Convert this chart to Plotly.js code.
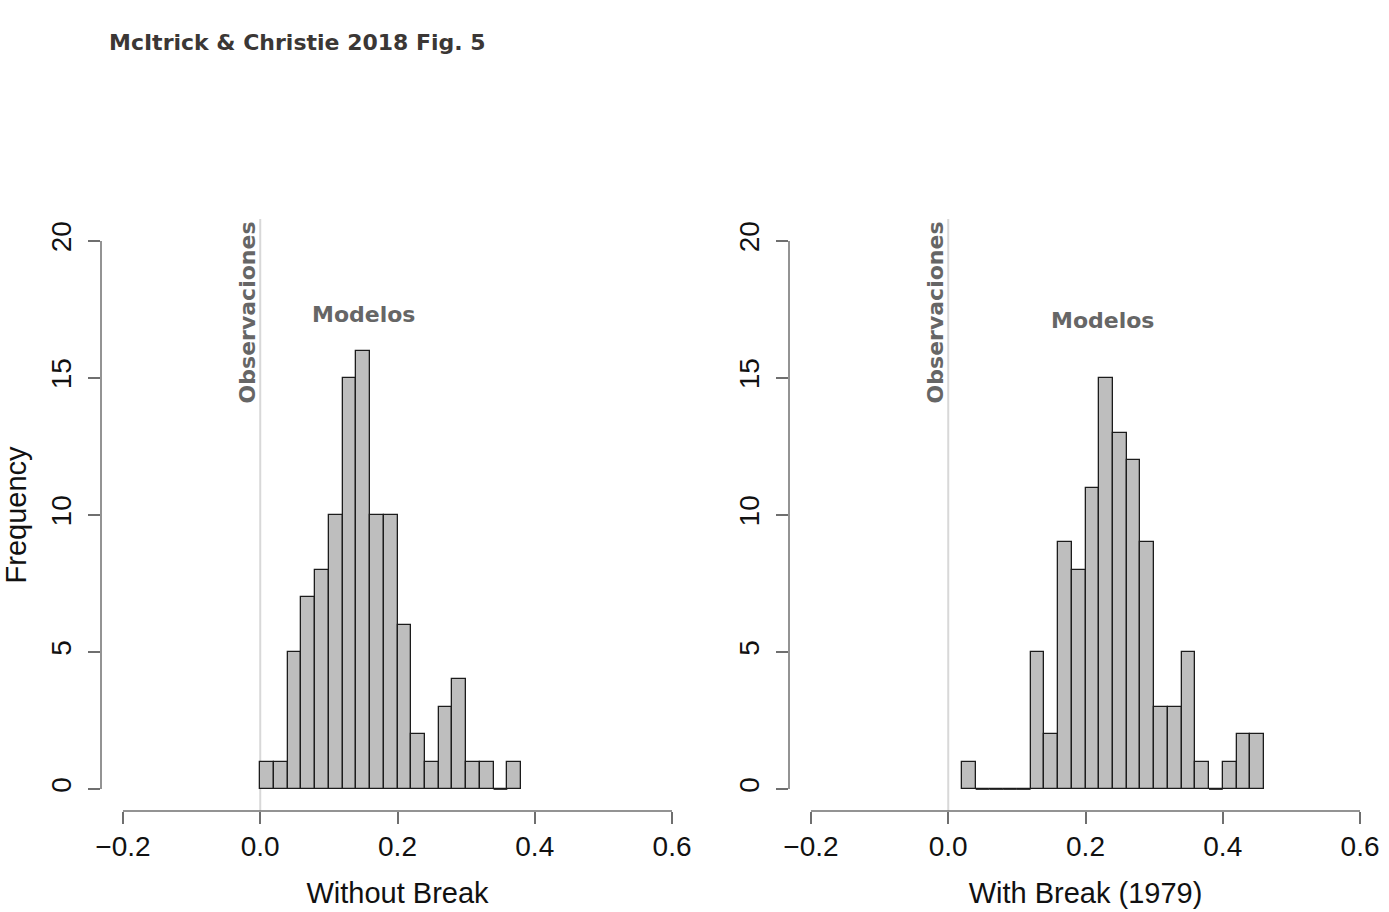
<!DOCTYPE html>
<html>
<head>
<meta charset="utf-8">
<script src="https://cdn.plot.ly/plotly-3.0.1.min.js"></script>
<style>html,body{margin:0;padding:0;background:#fff;}#chart{width:1389px;height:912px;}</style>
</head>
<body>
<div id="chart"></div>
<script>
// ---- data ----
const binWidth = 0.02;
const leftStart = 0.00;
const leftCounts = [1, 1, 5, 7, 8, 10, 15, 16, 10, 10, 6, 2, 1, 3, 4, 1, 1, 0, 1];
const rightStart = 0.02;
const rightCounts = [1, 0, 0, 0, 0, 5, 2, 9, 8, 11, 15, 13, 12, 9, 3, 3, 5, 1, 0, 1, 2, 2];
const xTickVals = [-0.2, 0.0, 0.2, 0.4, 0.6];
const yTickVals = [0, 5, 10, 15, 20];
const titleText = 'McItrick & Christie 2018 Fig. 5';
const xTitleLeft = 'Without Break';
const xTitleRight = 'With Break (1979)';
const yTitle = 'Frequency';
const obsLabel = 'Observaciones';
const modLabel = 'Modelos';
const obsValue = 0.0;
const modPosLeft = [0.151, 17.3];
const modPosRight = [0.2245, 17.1];

// ---- helpers ----
function edges(start, counts) {
  return counts.map((c, i) => +(start + i * binWidth).toFixed(4));
}
function zeroSegs(start, counts) {
  const xs = [], ys = [];
  counts.forEach((c, i) => {
    if (c === 0) {
      const l = start + i * binWidth;
      xs.push(l, l + binWidth, null); ys.push(0, 0, null);
    }
  });
  return {xs, ys};
}

const barFill = '#bebebe';
const barLine = '#1c1c1c';
const axisCol = '#6f6f6f';
const tickFont = {family: 'Liberation Sans, Arial, sans-serif', size: 28, color: '#111'};
const titleFont = {family: 'Liberation Sans, Arial, sans-serif', size: 29, color: '#111'};
const annFont = {family: 'DejaVu Sans', size: 22, color: '#666666'};

function barTrace(start, counts, xa, ya) {
  return {
    type: 'bar', x: edges(start, counts), y: counts, width: binWidth, offset: 0,
    xaxis: xa, yaxis: ya,
    marker: {color: barFill, line: {color: barLine, width: 1.3}},
    hoverinfo: 'x+y', showlegend: false
  };
}
function zeroTrace(start, counts, xa, ya) {
  const z = zeroSegs(start, counts);
  return {type: 'scatter', mode: 'lines', x: z.xs, y: z.ys, xaxis: xa, yaxis: ya,
    line: {color: barLine, width: 1.6}, hoverinfo: 'skip', showlegend: false};
}

const data = [
  barTrace(leftStart, leftCounts, 'x', 'y'),
  zeroTrace(leftStart, leftCounts, 'x', 'y'),
  barTrace(rightStart, rightCounts, 'x2', 'y2'),
  zeroTrace(rightStart, rightCounts, 'x2', 'y2')
];

function xAxis(domain, title, anchor) {
  return {
    domain: domain, anchor: anchor, range: [-0.232, 0.632],
    tickvals: xTickVals, tickformat: '.1f', ticks: 'outside', ticklen: 12, tickwidth: 1.5, tickcolor: axisCol,
    ticklabelstandoff: -2,
    showline: false, showgrid: false, zeroline: false, tickfont: tickFont,
    title: {text: title, font: titleFont, standoff: 22}
  };
}
function yAxis(title, anchor) {
  return {
    domain: [0, 1], anchor: anchor, range: [-0.8, 20.8],
    tickvals: yTickVals, ticks: 'outside', ticklen: 12, tickwidth: 1.5, tickcolor: axisCol, tickangle: -90,
    ticklabelstandoff: 6,
    showline: false, showgrid: false, zeroline: false, tickfont: tickFont,
    title: {text: title, font: titleFont, standoff: 14}
  };
}

function axisShapes(xa, ya) {
  return [
    {type: 'line', xref: xa, yref: ya + ' domain', x0: xTickVals[0], x1: xTickVals[xTickVals.length - 1], y0: 0, y1: 0,
     line: {color: axisCol, width: 1.5}},
    {type: 'line', xref: xa + ' domain', yref: ya, x0: 0, x1: 0, y0: yTickVals[0], y1: yTickVals[yTickVals.length - 1],
     line: {color: axisCol, width: 1.5}},
    {type: 'line', layer: 'below', xref: xa, yref: ya + ' domain', x0: obsValue, x1: obsValue, y0: 0, y1: 1,
     line: {color: '#d8d8d8', width: 2}}
  ];
}

function anns(xa, ya, modPos) {
  return [
    {xref: xa, yref: ya, x: obsValue - 0.019, y: 17.4, text: '<b>' + obsLabel + '</b>', textangle: -90,
     showarrow: false, font: annFont, xanchor: 'center', yanchor: 'middle'},
    {xref: xa, yref: ya, x: modPos[0], y: modPos[1], text: '<b>' + modLabel + '</b>',
     showarrow: false, font: annFont, xanchor: 'center', yanchor: 'middle'}
  ];
}

const layout = {
  width: 1389, height: 912,
  margin: {l: 101, r: 7, t: 219, b: 101},
  paper_bgcolor: '#fff', plot_bgcolor: '#fff',
  title: {text: '<b>' + titleText + '</b>', x: 109 / 1389, xanchor: 'left', xref: 'container',
    y: 1 - 42 / 912, yanchor: 'middle', yref: 'container',
    font: {family: 'DejaVu Sans', size: 22, color: '#3b3735'}},
  xaxis: xAxis([0, 593 / 1281], xTitleLeft, 'y'),
  yaxis: yAxis(yTitle, 'x'),
  xaxis2: xAxis([688 / 1281, 1], xTitleRight, 'y2'),
  yaxis2: yAxis('', 'x2'),
  shapes: axisShapes('x', 'y').concat(axisShapes('x2', 'y2')),
  annotations: anns('x', 'y', modPosLeft).concat(anns('x2', 'y2', modPosRight)),
  bargap: 0, showlegend: false
};

Plotly.newPlot('chart', data, layout, {displayModeBar: false, staticPlot: false});
</script>
</body>
</html>
